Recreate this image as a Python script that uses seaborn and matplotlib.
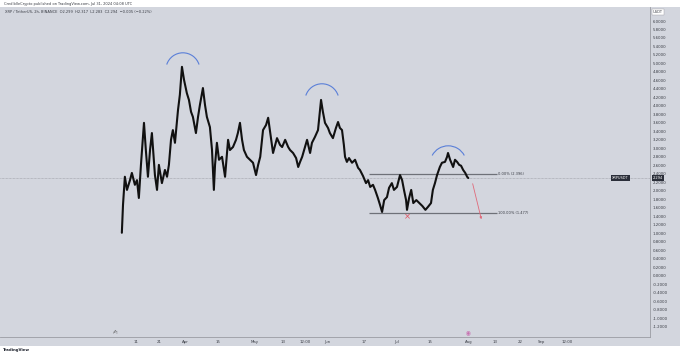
import matplotlib
matplotlib.use("Agg")
import matplotlib.pyplot as plt
import matplotlib.patches as mpatches
import seaborn as sns
import pandas as pd
import numpy as np

# ---- data (day offset from Mar 1, price in USDT) ----
days = [3.9, 4.4, 5.2, 6.1, 7.4, 8.2, 9.5, 10.4, 11.2, 12.1, 13.4, 14.2, 15.1, 16.0, 16.8,
        18.1, 19.0, 19.8, 21.1, 22.4, 23.3, 24.1, 25.0, 25.8, 26.7, 28.0, 28.8, 29.7, 30.6,
        31.8, 32.7, 33.6, 34.4, 35.7, 36.6, 37.4, 38.7, 39.6, 40.4, 41.7, 42.6, 43.4, 43.9,
        44.7, 45.6, 46.9, 48.2, 49.5, 50.3, 51.6, 52.9, 53.7, 54.6, 55.5, 56.3, 57.6, 58.9,
        60.2, 61.5, 62.4, 63.3, 64.5, 65.8, 66.7, 67.6, 68.8, 69.7, 70.5, 71.8, 72.7, 74.0,
        75.3, 76.1, 77.4, 78.7, 79.6, 80.4, 81.3, 82.5, 83.4, 84.7, 85.5, 86.8, 88.1, 88.9,
        89.4, 90.2, 91.1, 92.4, 93.2, 94.5, 95.8, 96.7, 97.5, 98.4, 99.2, 99.7, 100.5, 101.4,
        102.7, 104.0, 105.3, 106.1, 107.4, 108.7, 109.6, 110.5, 111.7, 112.6, 113.8, 114.7,
        115.6, 116.5, 117.7, 118.6, 119.8, 120.7, 122.0, 123.3, 124.2, 125.0, 125.9, 126.3,
        127.2, 128.1, 129.0, 130.3, 131.6, 132.9, 134.2, 135.3, 136.6, 137.4, 138.3, 139.2,
        140.4, 141.3, 142.6, 143.5, 143.9, 144.8, 146.1, 146.9, 147.8, 148.7, 149.5, 150.4,
        151.3, 152.1, 152.6]
prices = [1.01, 1.67, 2.33, 2.02, 2.25, 2.42, 2.14, 2.25, 1.83, 2.61, 3.60, 2.96, 2.33, 2.96, 3.36,
          2.37, 2.02, 2.61, 2.18, 2.49, 2.33, 2.61, 3.20, 3.43, 3.13, 3.90, 4.26, 4.92, 4.61,
          4.30, 4.14, 3.86, 3.74, 3.36, 3.74, 4.02, 4.42, 4.02, 3.74, 3.50, 2.96, 2.02, 2.61,
          3.13, 2.73, 2.80, 2.33, 3.20, 2.96, 3.03, 3.20, 3.36, 3.60, 3.20, 2.96, 2.80, 2.73,
          2.66, 2.37, 2.61, 2.80, 3.43, 3.55, 3.72, 3.36, 2.89, 3.08, 3.24, 3.08, 3.03, 3.20,
          3.03, 2.96, 2.89, 2.77, 2.56, 2.68, 2.80, 3.03, 3.20, 2.89, 3.13, 3.27, 3.43, 3.86,
          4.14, 3.86, 3.60, 3.48, 3.36, 3.24, 3.48, 3.62, 3.48, 3.43, 3.08, 2.80, 2.68, 2.77,
          2.66, 2.73, 2.54, 2.49, 2.35, 2.18, 2.25, 2.09, 2.14, 2.02, 1.83, 1.67,
          1.50, 1.78, 1.85, 2.07, 2.18, 2.02, 2.09, 2.37, 2.25, 2.02, 1.78, 1.55,
          1.83, 2.02, 1.71, 1.78, 1.71, 1.64, 1.55, 1.62, 1.71, 2.02, 2.18, 2.37,
          2.56, 2.66, 2.68, 2.80, 2.89, 2.73, 2.56, 2.73, 2.68, 2.61, 2.59, 2.49,
          2.42, 2.33, 2.30]

level_top = 2.396
level_bottom = 1.477
last_price = 2.31

x_tick_pos = [10, 20, 31, 45, 61, 73, 82.5, 92, 108, 122, 136, 153, 164, 175, 184, 195]
x_tick_labels = ["11", "21", "Apr", "15", "May", "13", "12:00", "Jun", "17", "Jul", "15",
                 "Aug", "13", "22", "Sep", "12:00"]
y_ticks = [round(-1.2 + 0.2 * i, 1) for i in range(37)]

df = pd.DataFrame({"day": days, "price": prices})

# ---- figure ----
sns.set_theme(style="white")
plt.rcParams["font.family"] = ["DejaVu Sans"]
BG = "#d3d6de"
TXT = "#3a3d45"
W, H = 680, 355
fig = plt.figure(figsize=(6.8, 3.55), dpi=100, facecolor="white")

# gray panel behind chart (its own axes, drawn first)
bg = fig.add_axes([0, (H - 346) / H, 1, (346 - 7) / H], zorder=0)
bg.set_facecolor(BG)
bg.set_xticks([])
bg.set_yticks([])
for s in bg.spines.values():
    s.set_visible(False)

ax = fig.add_axes([0, (H - 337) / H, 650 / W, (337 - 7) / H], zorder=1)
ax.set_facecolor(BG)

sns.lineplot(data=df, x="day", y="price", ax=ax, color="#111111", lw=1.5, zorder=3)

ax.set_xlim(-48.4, 230.6)
ax.set_ylim(-1.446, 6.33)

# levels
ax.hlines([level_top, level_bottom], 110.2, 164.8, color="#6e7178", lw=0.9, zorder=2)
ax.text(165.5, level_top, "0.00% (2.396)", fontsize=2.6, color=TXT, va="center")
ax.text(165.5, level_bottom, "100.00% (1.477)", fontsize=2.6, color=TXT, va="center")
ax.axhline(last_price, color="#9a9ca3", lw=0.5, ls=(0, (1, 1)), zorder=1)

# arrow
ax.annotate("", xy=(158.5, 1.265), xytext=(154.2, 2.23),
            arrowprops=dict(arrowstyle="-|>", color="#e06a7a", lw=0.6,
                            mutation_scale=3), zorder=4)
ax.text(126.4, 1.38, "×", color="#e0505f", fontsize=6, ha="center", va="center", zorder=4)

# head & shoulders arcs (circles on screen; undo matplotlib's data-unit angle stretch)
px_day = 1 / 2.33
px_price = 0.02357


def unstretch(phi, w, h):
    p = np.deg2rad(phi)
    return np.rad2deg(np.arctan2((h / w) * np.sin(p), np.cos(p)))


for cx, cy, r, t1, t2 in [(30.1, 4.85, 17, 18, 162), (89.8, 4.12, 17, 18, 162),
                          (144.0, 2.63, 18.2, 28, 152)]:
    w, h = 2 * r * px_day, 2 * r * px_price
    ax.add_patch(mpatches.Arc((cx, cy), w, h, theta1=unstretch(t1, w, h),
                              theta2=unstretch(t2, w, h), color="#5a7fd8", lw=0.8, zorder=4))

# axes styling
for s in ["top", "left"]:
    ax.spines[s].set_visible(False)
ax.spines["bottom"].set_color("#9a9ca3")
ax.spines["bottom"].set_linewidth(0.6)
ax.spines["right"].set_color("#9a9ca3")
ax.spines["right"].set_linewidth(0.6)
ax.yaxis.tick_right()
ax.set_yticks(y_ticks)
ax.set_yticklabels([f"{v:.4f}" for v in y_ticks])
ax.set_xticks(x_tick_pos)
ax.set_xticklabels(x_tick_labels)
ax.tick_params(axis="both", length=0, labelsize=2.8, colors=TXT, pad=2)
ax.set_xlabel("")
ax.set_ylabel("")

# last price boxes
fig.text(612 / W, 1 - 178 / H, "XRPUSDT", fontsize=2.5, color="white", va="center",
         bbox=dict(boxstyle="square,pad=0.3", fc="#2a2e39", ec="none"), zorder=5)
fig.text(653 / W, 1 - 178 / H, "2.294", fontsize=2.6, color="white", va="center",
         bbox=dict(boxstyle="square,pad=0.3", fc="#2a2e39", ec="none"), zorder=5)
fig.text(653 / W, 1 - 12 / H, "USDT", fontsize=2.6, color=TXT, va="center",
         bbox=dict(boxstyle="square,pad=0.35", fc="white", ec="#9a9ca3", lw=0.3), zorder=5)

# header texts
fig.text(4 / W, 1 - 3.5 / H, "CrediblleCrypto published on TradingView.com, Jul 31, 2024 04:08 UTC",
         fontsize=2.6, color=TXT, va="center")
fig.text(5 / W, 1 - 12 / H,
         "XRP / TetherUS, 2h, BINANCE  O2.299  H2.317  L2.283  C2.294  \u22120.005 (\u22120.22%)",
         fontsize=2.6, color=TXT, va="center", zorder=5)
fig.text(3 / W, 1 - 350 / H, "TradingView", fontsize=2.8, color="#1e222d", va="center",
         fontweight="bold")
fig.text(115 / W, 1 - 332 / H, "\u270d", fontsize=4, color="#555", ha="center", va="center",
         zorder=5)
fig.text(468 / W, 1 - 333 / H, "\u25c9", fontsize=4, color="#c76fb0", ha="center", va="center",
         zorder=5)

fig.savefig("out.png", dpi=100, facecolor="white")
